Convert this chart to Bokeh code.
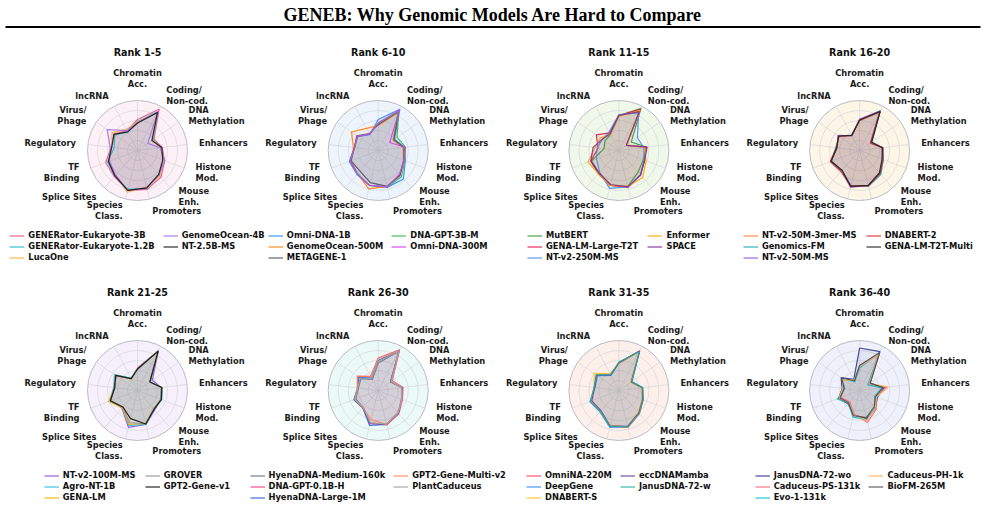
import numpy as np
from bokeh.plotting import figure
from bokeh.models import Range1d, Legend, LegendItem
from bokeh.embed import file_html
from bokeh.resources import INLINE
from bokeh.core.properties import value

# ---------------- data ----------------
main_title = "GENEB: Why Genomic Models Are Hard to Compare"
task_labels = ["Chromatin\nAcc.", "Coding/\nNon-cod.", "DNA\nMethylation", "Enhancers",
               "Histone\nMod.", "Mouse\nEnh.", "Promoters", "Species\nClass.",
               "Splice Sites", "TF\nBinding", "Regulatory", "Virus/\nPhage", "lncRNA"]
panel_titles = ["Rank 1-5", "Rank 6-10", "Rank 11-15", "Rank 16-20",
                "Rank 21-25", "Rank 26-30", "Rank 31-35", "Rank 36-40"]

rank_1_5_models = ["GENERator-Eukaryote-3B", "GENERator-Eukaryote-1.2B", "LucaOne",
                   "GenomeOcean-4B", "NT-2.5B-MS"]
rank_1_5_scores = [
    [0.62, 0.93, 0.40, 0.50, 0.58, 0.71, 0.80, 0.82, 0.70, 0.68, 0.53, 0.58, 0.45],
    [0.58, 0.88, 0.38, 0.47, 0.55, 0.66, 0.78, 0.80, 0.68, 0.64, 0.47, 0.55, 0.42],
    [0.57, 0.86, 0.36, 0.48, 0.56, 0.68, 0.75, 0.86, 0.66, 0.62, 0.52, 0.62, 0.48],
    [0.55, 0.87, 0.25, 0.46, 0.58, 0.65, 0.77, 0.82, 0.66, 0.60, 0.55, 0.74, 0.45],
    [0.55, 0.86, 0.35, 0.49, 0.54, 0.64, 0.77, 0.82, 0.68, 0.62, 0.52, 0.57, 0.42],
]
rank_6_10_models = ["Omni-DNA-1B", "GenomeOcean-500M", "METAGENE-1",
                    "DNA-GPT-3B-M", "Omni-DNA-300M"]
rank_6_10_scores = [
    [0.62, 0.93, 0.40, 0.53, 0.58, 0.76, 0.76, 0.72, 0.64, 0.62, 0.48, 0.50, 0.36],
    [0.50, 0.85, 0.36, 0.50, 0.54, 0.66, 0.74, 0.79, 0.62, 0.58, 0.50, 0.65, 0.50],
    [0.52, 0.88, 0.38, 0.52, 0.55, 0.66, 0.74, 0.66, 0.55, 0.58, 0.48, 0.52, 0.38],
    [0.55, 0.88, 0.46, 0.55, 0.57, 0.70, 0.75, 0.72, 0.62, 0.60, 0.47, 0.50, 0.37],
    [0.55, 0.92, 0.28, 0.54, 0.55, 0.64, 0.75, 0.72, 0.63, 0.60, 0.48, 0.50, 0.37],
]
rank_11_15_models = ["MutBERT", "GENA-LM-Large-T2T", "NT-v2-250M-MS", "Enformer", "SPACE"]
rank_11_15_scores = [
    [0.70, 0.95, 0.30, 0.55, 0.52, 0.58, 0.74, 0.72, 0.60, 0.58, 0.30, 0.34, 0.36],
    [0.70, 0.93, 0.18, 0.55, 0.55, 0.65, 0.76, 0.72, 0.62, 0.60, 0.42, 0.55, 0.40],
    [0.72, 0.85, 0.45, 0.50, 0.54, 0.66, 0.75, 0.78, 0.58, 0.48, 0.44, 0.40, 0.42],
    [0.68, 0.90, 0.20, 0.52, 0.58, 0.72, 0.74, 0.72, 0.62, 0.66, 0.48, 0.45, 0.36],
    [0.70, 0.88, 0.18, 0.57, 0.55, 0.65, 0.75, 0.70, 0.60, 0.60, 0.52, 0.40, 0.38],
]
rank_16_20_models = ["NT-v2-50M-3mer-MS", "Genomics-FM", "NT-v2-50M-MS",
                     "DNABERT-2", "GENA-LM-T2T-Multi"]
rank_16_20_scores = [
    [0.60, 0.88, 0.28, 0.46, 0.50, 0.62, 0.73, 0.74, 0.55, 0.62, 0.46, 0.52, 0.34],
    [0.62, 0.90, 0.30, 0.47, 0.51, 0.64, 0.74, 0.72, 0.53, 0.60, 0.48, 0.50, 0.35],
    [0.63, 0.89, 0.27, 0.45, 0.49, 0.60, 0.72, 0.76, 0.54, 0.61, 0.45, 0.53, 0.33],
    [0.60, 0.87, 0.26, 0.47, 0.50, 0.62, 0.73, 0.73, 0.56, 0.63, 0.47, 0.50, 0.34],
    [0.61, 0.88, 0.29, 0.46, 0.48, 0.60, 0.72, 0.74, 0.53, 0.61, 0.46, 0.51, 0.34],
]
rank_21_25_models = ["NT-v2-100M-MS", "Agro-NT-1B", "GENA-LM", "GROVER", "GPT2-Gene-v1"]
rank_21_25_scores = [
    [0.45, 0.90, 0.36, 0.48, 0.50, 0.52, 0.70, 0.76, 0.47, 0.58, 0.46, 0.52, 0.27],
    [0.43, 0.88, 0.30, 0.50, 0.52, 0.50, 0.70, 0.72, 0.45, 0.60, 0.48, 0.56, 0.28],
    [0.44, 0.87, 0.30, 0.49, 0.51, 0.48, 0.68, 0.70, 0.46, 0.62, 0.46, 0.53, 0.26],
    [0.42, 0.90, 0.31, 0.48, 0.50, 0.49, 0.69, 0.66, 0.44, 0.58, 0.47, 0.54, 0.27],
    [0.43, 0.89, 0.30, 0.49, 0.51, 0.50, 0.69, 0.58, 0.44, 0.58, 0.46, 0.53, 0.27],
]
rank_26_30_models = ["HyenaDNA-Medium-160k", "DNA-GPT-0.1B-H", "HyenaDNA-Large-1M",
                     "GPT2-Gene-Multi-v2", "PlantCaduceus"]
rank_26_30_scores = [
    [0.55, 0.88, 0.30, 0.48, 0.50, 0.60, 0.70, 0.68, 0.45, 0.48, 0.40, 0.42, 0.25],
    [0.65, 0.92, 0.34, 0.50, 0.52, 0.62, 0.71, 0.68, 0.47, 0.51, 0.42, 0.50, 0.32],
    [0.60, 0.90, 0.30, 0.49, 0.50, 0.61, 0.70, 0.72, 0.46, 0.52, 0.41, 0.47, 0.28],
    [0.64, 0.90, 0.33, 0.48, 0.51, 0.60, 0.70, 0.60, 0.46, 0.50, 0.42, 0.51, 0.31],
    [0.58, 0.89, 0.31, 0.47, 0.50, 0.59, 0.69, 0.66, 0.45, 0.50, 0.41, 0.44, 0.27],
]
rank_31_35_models = ["OmniNA-220M", "DeepGene", "DNABERT-S", "eccDNAMamba", "JanusDNA-72-w"]
rank_31_35_scores = [
    [0.55, 0.90, 0.30, 0.48, 0.52, 0.62, 0.76, 0.74, 0.55, 0.60, 0.50, 0.55, 0.36],
    [0.56, 0.88, 0.32, 0.47, 0.50, 0.60, 0.74, 0.76, 0.57, 0.62, 0.48, 0.52, 0.34],
    [0.54, 0.87, 0.28, 0.46, 0.50, 0.58, 0.75, 0.72, 0.55, 0.60, 0.50, 0.60, 0.38],
    [0.55, 0.89, 0.30, 0.47, 0.51, 0.60, 0.74, 0.73, 0.54, 0.58, 0.49, 0.54, 0.35],
    [0.57, 0.88, 0.31, 0.48, 0.52, 0.61, 0.75, 0.74, 0.56, 0.61, 0.50, 0.55, 0.36],
]
rank_36_40_models = ["JanusDNA-72-wo", "Caduceus-PS-131k", "Evo-1-131k",
                     "Caduceus-PH-1k", "BioFM-265M"]
rank_36_40_scores = [
    [0.85, 0.88, 0.25, 0.50, 0.38, 0.48, 0.58, 0.50, 0.35, 0.45, 0.35, 0.45, 0.25],
    [0.50, 0.80, 0.22, 0.55, 0.35, 0.50, 0.66, 0.48, 0.30, 0.40, 0.32, 0.40, 0.22],
    [0.45, 0.85, 0.20, 0.45, 0.32, 0.46, 0.60, 0.55, 0.34, 0.48, 0.30, 0.42, 0.20],
    [0.48, 0.82, 0.24, 0.58, 0.36, 0.47, 0.62, 0.50, 0.32, 0.44, 0.34, 0.38, 0.24],
    [0.50, 0.86, 0.26, 0.47, 0.34, 0.44, 0.56, 0.52, 0.33, 0.42, 0.31, 0.44, 0.22],
]

panel_models = [rank_1_5_models, rank_6_10_models, rank_11_15_models, rank_16_20_models,
                rank_21_25_models, rank_26_30_models, rank_31_35_models, rank_36_40_models]
panel_scores = [rank_1_5_scores, rank_6_10_scores, rank_11_15_scores, rank_16_20_scores,
                rank_21_25_scores, rank_26_30_scores, rank_31_35_scores, rank_36_40_scores]

# ---------------- styles ----------------
panel_bg = ["#fdf0f6", "#edf4fc", "#f0f8ea", "#fdf6e6",
            "#f5f0fb", "#ebfaf7", "#fdf0ea", "#eef1fb"]
panel_colors = [
    ["#f0508a", "#1fb8d0", "#ffb040", "#a070f0", "#1a1a1a"],
    ["#2090ff", "#ff7f0e", "#505060", "#3cb44b", "#d040f0"],
    ["#3a9a3a", "#e8174b", "#4a8fe8", "#ffa500", "#7b2d9b"],
    ["#ff7f3f", "#20a8b0", "#9b59d0", "#d03030", "#222222"],
    ["#9050e0", "#20c0e0", "#ffaa00", "#8a9a8a", "#111111"],
    ["#607890", "#f03c8c", "#3060d0", "#ff8c60", "#a0a0a0"],
    ["#ff4060", "#3090ff", "#ffc020", "#6a3d9a", "#20b0a0"],
    ["#303890", "#ff6080", "#10c0d0", "#ffb050", "#505050"],
]

W, H = 985, 505
R = 50.0
LABEL_R = 62.0
FONT = "DejaVu Sans"
LFS = 8.3

# approximate DejaVu Sans Bold advance widths (em) for legend centering
_w = {' ': .348, '-': .415, '.': .38, '/': .365, '_': .5}
for ch in "0123456789":
    _w[ch] = .696
_w.update(dict(A=.774, B=.762, C=.734, D=.83, E=.683, F=.683, G=.821, H=.837, I=.372, J=.372,
               K=.775, L=.637, M=.995, N=.837, O=.85, P=.733, Q=.85, R=.77, S=.72, T=.682,
               U=.812, V=.774, W=1.103, X=.771, Y=.724, Z=.725,
               a=.675, b=.716, c=.593, d=.716, e=.678, f=.435, g=.716, h=.712, i=.343, j=.343,
               k=.665, l=.343, m=1.042, n=.712, o=.687, p=.716, q=.716, r=.493, s=.595, t=.478,
               u=.712, v=.652, w=.924, x=.645, y=.652, z=.582))


def text_w(s, size=LFS):
    return sum(_w.get(c, .65) for c in s) * size


p = figure(width=W, height=H, x_range=Range1d(0, W), y_range=Range1d(H, 0),
           x_axis_type=None, y_axis_type=None, toolbar_location=None,
           output_backend="svg", min_border=0, outline_line_color=None,
           background_fill_color="white", border_fill_color="white")

# main title & rule
p.text(x=[W / 2], y=[14], text=[main_title], text_align="center", text_baseline="middle",
       text_font=value("Liberation Serif"), text_font_style="bold", text_font_size="18px",
       text_color="black")
p.segment(x0=[5], y0=[26.5], x1=[W - 5], y1=[26.5], line_color="black", line_width=2.2)

n = len(task_labels)
theta = 2 * np.pi * np.arange(n) / n
sx, sy = np.sin(theta), -np.cos(theta)

for k in range(8):
    row, col = divmod(k, 4)
    cx = 137 + 240.7 * col
    cy = 150 + 240 * row

    # title
    p.text(x=[cx], y=[cy - 98], text=[panel_titles[k]], text_align="center",
           text_baseline="middle", text_font=value(FONT), text_font_style="bold",
           text_font_size="9.6px", text_color="#111111")

    # background & grid
    p.circle(x=[cx], y=[cy], radius=R, fill_color=panel_bg[k], line_color="#b9bcc8",
             line_width=1)
    for f in (0.2, 0.4, 0.6, 0.8):
        p.circle(x=[cx], y=[cy], radius=R * f, fill_color=None, line_color="#d6d6da",
                 line_width=0.7)
    p.segment(x0=[cx] * n, y0=[cy] * n, x1=list(cx + R * sx), y1=list(cy + R * sy),
              line_color="#d6d6da", line_width=0.7)

    # axis labels
    lx = cx + LABEL_R * sx
    ly = cy + LABEL_R * sy
    groups = {}
    for i in range(n):
        if abs(sx[i]) < 0.01:
            al = "center"
            bl = "bottom" if sy[i] < 0 else "top"
        else:
            al = "left" if sx[i] > 0 else "right"
            bl = "middle"
        groups.setdefault((al, bl), []).append(i)
    for (al, bl), idx in groups.items():
        p.text(x=[lx[i] for i in idx], y=[ly[i] for i in idx],
               text=[task_labels[i] for i in idx], text_align=al, text_baseline=bl,
               text_font=value(FONT), text_font_style="bold", text_font_size=f"{LFS}px",
               text_line_height=1.1, text_color="#1a1a1a")

    # series
    models = panel_models[k]
    scores = panel_scores[k]
    colors = panel_colors[k]
    for sc, c in zip(scores, colors):
        s = np.array(sc)
        xs = cx + R * s * sx
        ys = cy + R * s * sy
        p.patch(x=list(xs), y=list(ys), fill_color=c, fill_alpha=0.07, line_color=None)
    line_renderers = []
    for sc, c in zip(scores, colors):
        s = np.array(sc)
        xs = list(cx + R * s * sx) + [cx + R * s[0] * sx[0]]
        ys = list(cy + R * s * sy) + [cy + R * s[0] * sy[0]]
        line_renderers.append(p.line(x=xs, y=ys, line_color=c, line_width=1.2, line_alpha=0.9))

    # legends: two columns (3 + 2), centred under the radar
    cols = [list(range(0, 3)), list(range(3, 5))]
    glyph_w, standoff, gap = 15, 4, 8
    col_w = [glyph_w + standoff + max(text_w(models[i]) for i in cidx) for cidx in cols]
    total = col_w[0] + gap + col_w[1]
    left = cx - total / 2
    top = cy + 79.5
    x_start = [left, left + col_w[0] + gap]
    for ci, cidx in enumerate(cols):
        items = [LegendItem(label=value(models[i]), renderers=[line_renderers[i]]) for i in cidx]
        leg = Legend(items=items, location=(x_start[ci], H - top - 11 * len(cidx)),
                     orientation="vertical", glyph_width=glyph_w, glyph_height=11,
                     label_height=11, label_standoff=standoff, spacing=0, padding=0, margin=0,
                     border_line_alpha=0, background_fill_alpha=0,
                     label_text_font=FONT, label_text_font_style="bold",
                     label_text_font_size=f"{LFS}px", label_text_color="#111111")
        p.add_layout(leg)

open("out.html", "w").write(file_html(p, INLINE))
